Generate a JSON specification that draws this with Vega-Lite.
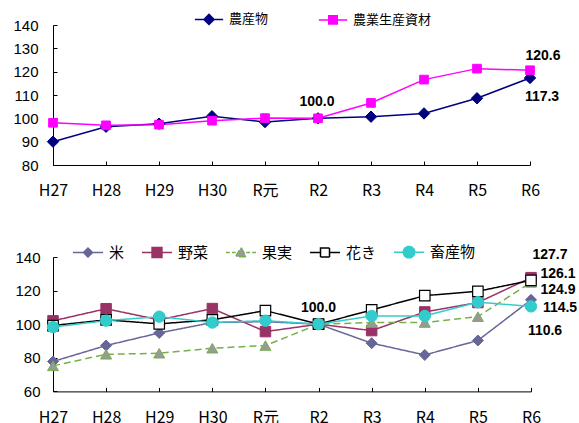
{
  "$schema": "https://vega.github.io/schema/vega-lite/v6.json",
  "background": "white",
  "padding": {"left": 12, "top": 4, "right": 0, "bottom": 0},
  "spacing": 38,
  "config": {
    "view": {"stroke": null},
    "axis": {"domainColor": "#000", "tickColor": "#000", "labelColor": "#000", "grid": false, "title": null, "tickSize": -4, "domainWidth": 1, "tickWidth": 1},
    "legend": {"labelFont": "Noto Sans CJK JP", "labelColor": "#000", "title": null}
  },
  "datasets": {
    "top": [
      {"year": "H27", "series": "農産物", "value": 90.0},
      {"year": "H28", "series": "農産物", "value": 96.4},
      {"year": "H29", "series": "農産物", "value": 97.7},
      {"year": "H30", "series": "農産物", "value": 100.9},
      {"year": "R元", "series": "農産物", "value": 98.4},
      {"year": "R2", "series": "農産物", "value": 100.0},
      {"year": "R3", "series": "農産物", "value": 100.7},
      {"year": "R4", "series": "農産物", "value": 102.1},
      {"year": "R5", "series": "農産物", "value": 108.6},
      {"year": "R6", "series": "農産物", "value": 117.3},
      {"year": "H27", "series": "農業生産資材", "value": 98.1},
      {"year": "H28", "series": "農業生産資材", "value": 97.0},
      {"year": "H29", "series": "農業生産資材", "value": 97.3},
      {"year": "H30", "series": "農業生産資材", "value": 99.0},
      {"year": "R元", "series": "農業生産資材", "value": 100.1},
      {"year": "R2", "series": "農業生産資材", "value": 100.0},
      {"year": "R3", "series": "農業生産資材", "value": 106.6},
      {"year": "R4", "series": "農業生産資材", "value": 116.6},
      {"year": "R5", "series": "農業生産資材", "value": 121.3},
      {"year": "R6", "series": "農業生産資材", "value": 120.6}
    ],
    "bottom": [
      {"year": "H27", "series": "米", "value": 77.8},
      {"year": "H28", "series": "米", "value": 87.3},
      {"year": "H29", "series": "米", "value": 94.8},
      {"year": "H30", "series": "米", "value": 101.0},
      {"year": "R元", "series": "米", "value": 101.5},
      {"year": "R2", "series": "米", "value": 100.0},
      {"year": "R3", "series": "米", "value": 88.7},
      {"year": "R4", "series": "米", "value": 81.7},
      {"year": "R5", "series": "米", "value": 90.3},
      {"year": "R6", "series": "米", "value": 114.5},
      {"year": "H27", "series": "野菜", "value": 102.0},
      {"year": "H28", "series": "野菜", "value": 109.2},
      {"year": "H29", "series": "野菜", "value": 102.6},
      {"year": "H30", "series": "野菜", "value": 109.3},
      {"year": "R元", "series": "野菜", "value": 95.6},
      {"year": "R2", "series": "野菜", "value": 100.0},
      {"year": "R3", "series": "野菜", "value": 96.2},
      {"year": "R4", "series": "野菜", "value": 107.3},
      {"year": "R5", "series": "野菜", "value": 112.9},
      {"year": "R6", "series": "野菜", "value": 127.7},
      {"year": "H27", "series": "果実", "value": 75.2},
      {"year": "H28", "series": "果実", "value": 82.1},
      {"year": "H29", "series": "果実", "value": 82.7},
      {"year": "H30", "series": "果実", "value": 85.7},
      {"year": "R元", "series": "果実", "value": 87.3},
      {"year": "R2", "series": "果実", "value": 100.0},
      {"year": "R3", "series": "果実", "value": 101.0},
      {"year": "R4", "series": "果実", "value": 101.0},
      {"year": "R5", "series": "果実", "value": 104.5},
      {"year": "R6", "series": "果実", "value": 124.9},
      {"year": "H27", "series": "花き", "value": 99.2},
      {"year": "H28", "series": "花き", "value": 102.6},
      {"year": "H29", "series": "花き", "value": 100.2},
      {"year": "H30", "series": "花き", "value": 102.6},
      {"year": "R元", "series": "花き", "value": 108.1},
      {"year": "R2", "series": "花き", "value": 100.0},
      {"year": "R3", "series": "花き", "value": 108.5},
      {"year": "R4", "series": "花き", "value": 117.0},
      {"year": "R5", "series": "花き", "value": 119.6},
      {"year": "R6", "series": "花き", "value": 126.1},
      {"year": "H27", "series": "畜産物", "value": 98.3},
      {"year": "H28", "series": "畜産物", "value": 102.1},
      {"year": "H29", "series": "畜産物", "value": 104.5},
      {"year": "H30", "series": "畜産物", "value": 101.0},
      {"year": "R元", "series": "畜産物", "value": 102.1},
      {"year": "R2", "series": "畜産物", "value": 100.0},
      {"year": "R3", "series": "畜産物", "value": 104.9},
      {"year": "R4", "series": "畜産物", "value": 104.9},
      {"year": "R5", "series": "畜産物", "value": 113.1},
      {"year": "R6", "series": "畜産物", "value": 110.6}
    ]
  },
  "resolve": {
    "scale": {"color": "independent", "strokeDash": "independent", "strokeWidth": "independent", "y": "independent", "x": "independent"},
    "legend": {"color": "independent"}
  },
  "vconcat": [
    {
      "width": 477,
      "height": 140,
      "data": {"name": "top"},
      "encoding": {
        "x": {"field": "year", "type": "ordinal", "sort": ["H27","H28","H29","H30","R元","R2","R3","R4","R5","R6"], "scale": {"type": "point", "padding": 0},
          "axis": {"labelAngle": 0, "labelFont": "Liberation Sans Narrow, Noto Sans CJK JP", "labelFontSize": 16, "labelPadding": 21}},
        "y": {"field": "value", "type": "quantitative", "scale": {"domain": [80, 140], "nice": false, "zero": false},
          "axis": {"values": [80, 90, 100, 110, 120, 130, 140], "labelFont": "Liberation Sans", "labelFontSize": 15, "labelPadding": 19}}
      },
      "layer": [
        {
          "mark": {"type": "line", "strokeWidth": 1.5},
          "encoding": {
            "color": {"field": "series", "type": "nominal", "scale": {"domain": ["農産物", "農業生産資材"], "range": ["#000080", "#FF00FF"]},
              "legend": {"orient": "none", "legendX": 141, "legendY": -21, "direction": "horizontal", "symbolSize": 800, "symbolStrokeWidth": 1.5, "labelFontSize": 13, "labelOffset": 5, "columnPadding": 46,
                "encoding": {"symbols": {
                  "shape": {"value": {"expr": "datum.value === '農産物' ? 'M-1,0H1M-0.36,0L0,-0.36L0.36,0L0,0.36Z' : 'M-1,0H1M-0.3,-0.3H0.3V0.3H-0.3Z'"}},
                  "fill": {"value": {"expr": "datum.value === '農産物' ? '#000080' : '#FF00FF'"}},
                  "strokeWidth": {"value": 1.5},
                  "opacity": {"value": 1}
                }}
              }
            }
          }
        },
        {
          "transform": [{"filter": "datum.series === '農産物'"}],
          "mark": {"type": "point", "shape": "diamond", "filled": true, "opacity": 1, "fill": "#000080", "stroke": "#000080", "strokeWidth": 1, "size": 130}
        },
        {
          "transform": [{"filter": "datum.series === '農業生産資材'"}],
          "mark": {"type": "point", "shape": "square", "filled": true, "opacity": 1, "fill": "#FF00FF", "stroke": "#FF00FF", "strokeWidth": 1, "size": 75}
        },
        {
          "transform": [{"filter": "datum.year === 'R2' && datum.series === '農産物'"}],
          "mark": {"type": "text", "font": "Liberation Sans", "fontWeight": "bold", "fontSize": 14, "dx": -1, "dy": -16, "color": "#000"},
          "encoding": {"text": {"field": "value", "type": "quantitative", "format": ".1f"}}
        },
        {
          "transform": [{"filter": "datum.year === 'R6' && datum.series === '農業生産資材'"}],
          "mark": {"type": "text", "font": "Liberation Sans", "fontWeight": "bold", "fontSize": 14, "dx": 13, "dy": -14, "color": "#000"},
          "encoding": {"text": {"field": "value", "type": "quantitative", "format": ".1f"}}
        },
        {
          "transform": [{"filter": "datum.year === 'R6' && datum.series === '農産物'"}],
          "mark": {"type": "text", "font": "Liberation Sans", "fontWeight": "bold", "fontSize": 14, "dx": 12, "dy": 19, "color": "#000"},
          "encoding": {"text": {"field": "value", "type": "quantitative", "format": ".1f"}}
        }
      ]
    },
    {
      "width": 478,
      "height": 134.4,
      "data": {"name": "bottom"},
      "encoding": {
        "x": {"field": "year", "type": "ordinal", "sort": ["H27","H28","H29","H30","R元","R2","R3","R4","R5","R6"], "scale": {"type": "point", "padding": 0},
          "axis": {"labelAngle": 0, "labelFont": "Liberation Sans Narrow, Noto Sans CJK JP", "labelFontSize": 16, "labelPadding": 22}},
        "y": {"field": "value", "type": "quantitative", "scale": {"domain": [60, 140], "nice": false, "zero": false},
          "axis": {"values": [60, 80, 100, 120, 140], "labelFont": "Liberation Sans", "labelFontSize": 15, "labelPadding": 17}}
      },
      "layer": [
        {
          "mark": {"type": "line"},
          "encoding": {
            "color": {"field": "series", "type": "nominal", "scale": {"domain": ["米", "野菜", "果実", "花き", "畜産物"], "range": ["#666699", "#993366", "#77B04A", "#000000", "#33CCCC"]},
              "legend": {"orient": "none", "legendX": 19, "legendY": -21, "direction": "horizontal", "symbolSize": 900, "symbolStrokeWidth": 1.5, "labelFontSize": 15, "labelOffset": 5, "columnPadding": 14,
                "encoding": {"symbols": {
                  "shape": {"value": {"expr": "datum.value === '米' ? 'M-1,0H1M-0.3,0L0,-0.3L0.3,0L0,0.3Z' : datum.value === '野菜' ? 'M-1,0H1M-0.33,-0.33H0.33V0.33H-0.33Z' : datum.value === '果実' ? 'M-1,0H-0.75M-0.6,0H-0.35M0.35,0H0.6M0.75,0H1M0,-0.33L0.36,0.28L-0.36,0.28Z' : datum.value === '花き' ? 'M-1,0H-0.3M0.3,0H1M-0.3,-0.3H0.3V0.3H-0.3Z' : 'M-1,0H1M0.38,0A0.38,0.38,0,1,1,-0.38,0A0.38,0.38,0,1,1,0.38,0Z'"}},
                  "fill": {"value": {"expr": "datum.value === '米' ? '#666699' : datum.value === '野菜' ? '#993366' : datum.value === '果実' ? '#999999' : datum.value === '花き' ? '#ffffff' : '#33CCCC'"}},
                  "strokeWidth": {"value": {"expr": "datum.value === '果実' ? 2.2 : 1.5"}},
                  "strokeDash": {"value": [1, 0]},
                  "opacity": {"value": 1}
                }}
              }
            },
            "strokeDash": {"field": "series", "type": "nominal", "scale": {"domain": ["米", "野菜", "果実", "花き", "畜産物"], "range": [[1, 0], [1, 0], [7, 4], [1, 0], [1, 0]]}, "legend": null},
            "strokeWidth": {"field": "series", "type": "nominal", "scale": {"domain": ["米", "野菜", "果実", "花き", "畜産物"], "range": [1.5, 1.5, 2.8, 2, 1.5]}, "legend": null}
          }
        },
        {
          "transform": [{"filter": "datum.series === '米'"}],
          "mark": {"type": "point", "shape": "diamond", "filled": true, "opacity": 1, "fill": "#666699", "stroke": "#666699", "strokeWidth": 1, "size": 121}
        },
        {
          "transform": [{"filter": "datum.series === '野菜'"}],
          "mark": {"type": "point", "shape": "square", "filled": true, "opacity": 1, "fill": "#993366", "stroke": "#993366", "strokeWidth": 1, "size": 110}
        },
        {
          "transform": [{"filter": "datum.series === '果実'"}],
          "mark": {"type": "point", "shape": "triangle-up", "filled": true, "opacity": 1, "fill": "#999999", "stroke": "#77B04A", "strokeWidth": 1, "size": 121}
        },
        {
          "transform": [{"filter": "datum.series === '花き'"}],
          "mark": {"type": "point", "shape": "square", "filled": true, "opacity": 1, "fill": "#ffffff", "stroke": "#000000", "strokeWidth": 1.2, "size": 110}
        },
        {
          "transform": [{"filter": "datum.series === '畜産物'"}],
          "mark": {"type": "point", "shape": "circle", "filled": true, "opacity": 1, "fill": "#33CCCC", "stroke": "#33CCCC", "strokeWidth": 1, "size": 130}
        },
        {
          "transform": [{"filter": "datum.year === 'R2' && datum.series === '米'"}],
          "mark": {"type": "text", "font": "Liberation Sans", "fontWeight": "bold", "fontSize": 14, "dx": 0, "dy": -16, "color": "#000"},
          "encoding": {"text": {"field": "value", "type": "quantitative", "format": ".1f"}}
        },
        {
          "transform": [{"filter": "datum.year === 'R6' && datum.series === '野菜'"}],
          "mark": {"type": "text", "font": "Liberation Sans", "fontWeight": "bold", "fontSize": 14, "dx": 19, "dy": -23, "color": "#000"},
          "encoding": {"text": {"field": "value", "type": "quantitative", "format": ".1f"}}
        },
        {
          "transform": [{"filter": "datum.year === 'R6' && datum.series === '花き'"}],
          "mark": {"type": "text", "font": "Liberation Sans", "fontWeight": "bold", "fontSize": 14, "dx": 27, "dy": -6, "color": "#000"},
          "encoding": {"text": {"field": "value", "type": "quantitative", "format": ".1f"}}
        },
        {
          "transform": [{"filter": "datum.year === 'R6' && datum.series === '果実'"}],
          "mark": {"type": "text", "font": "Liberation Sans", "fontWeight": "bold", "fontSize": 14, "dx": 27, "dy": 8, "color": "#000"},
          "encoding": {"text": {"field": "value", "type": "quantitative", "format": ".1f"}}
        },
        {
          "transform": [{"filter": "datum.year === 'R6' && datum.series === '米'"}],
          "mark": {"type": "text", "font": "Liberation Sans", "fontWeight": "bold", "fontSize": 14, "dx": 29, "dy": 8, "color": "#000"},
          "encoding": {"text": {"field": "value", "type": "quantitative", "format": ".1f"}}
        },
        {
          "transform": [{"filter": "datum.year === 'R6' && datum.series === '畜産物'"}],
          "mark": {"type": "text", "font": "Liberation Sans", "fontWeight": "bold", "fontSize": 14, "dx": 14, "dy": 25, "color": "#000"},
          "encoding": {"text": {"field": "value", "type": "quantitative", "format": ".1f"}}
        }
      ]
    }
  ]
}
